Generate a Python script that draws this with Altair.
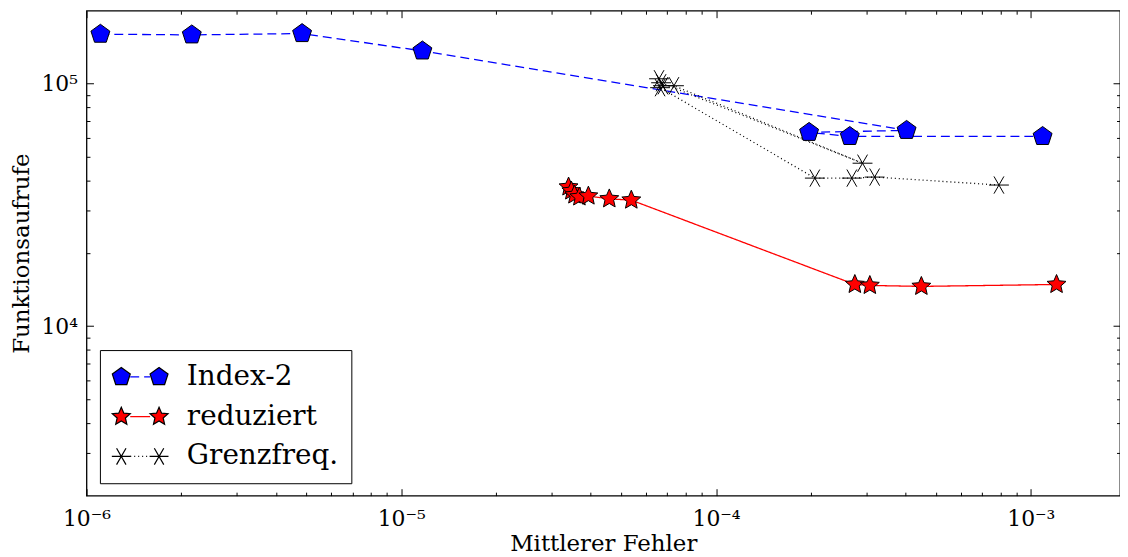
import math
import altair as alt
import pandas as pd

# ---------------- data ----------------
series_names = ["Index-2", "reduziert", "Grenzfreq."]

idx2_err = [1.107e-6, 2.16e-6, 4.84e-6, 1.167e-5, 4.03e-4, 1.975e-4, 2.66e-4, 1.09e-3]
idx2_calls = [1.60e5, 1.59e5, 1.61e5, 1.365e5, 6.42e4, 6.30e4, 6.06e4, 6.06e4]

red_err = [3.40e-5, 3.47e-5, 3.55e-5, 3.68e-5, 3.93e-5, 4.58e-5, 5.38e-5,
           2.76e-4, 3.08e-4, 4.49e-4, 1.207e-3]
red_calls = [3.75e4, 3.61e4, 3.475e4, 3.41e4, 3.44e4, 3.35e4, 3.31e4,
             1.486e4, 1.472e4, 1.459e4, 1.486e4]

grenz_err = [7.92e-4, 3.19e-4, 2.70e-4, 2.06e-4, 6.64e-5, 6.59e-5, 6.78e-5,
             7.35e-5, 2.92e-4, 6.69e-5]
grenz_calls = [3.82e4, 4.12e4, 4.08e4, 4.08e4, 9.63e4, 1.048e5, 9.81e4,
               9.81e4, 4.70e4, 1.009e5]

x_major = [1e-6, 1e-5, 1e-4, 1e-3]
x_major_labels = ["10⁻⁶", "10⁻⁵", "10⁻⁴", "10⁻³"]
x_minor = [k * 10.0 ** e for e in (-6, -5, -4) for k in range(2, 10)]
y_major = [1e4, 1e5]
y_major_labels = ["10⁴", "10⁵"]
y_minor = [k * 10.0 ** e for e in (3, 4) for k in range(2, 10) if not (e == 3 and k == 2)]

x_domain = [1e-6, 1.92e-3]
y_domain = [2e3, 2e5]

colors = ["#0000ff", "#ff0000", "#000000"]
dashes = [[9, 5], [1, 0], [1, 3]]
marker_widths = [1.0, 1.0, 1.4]

# ---------------- marker shapes ----------------
def pentagon(cx=0.0):
    pts = []
    for k in range(5):
        a = -math.pi / 2 + k * 2 * math.pi / 5
        pts.append((cx + math.cos(a), math.sin(a)))
    return "M" + "L".join(f"{x:.3f},{y:.3f}" for x, y in pts) + "Z"


def star(cx=0.0):
    pts = []
    for k in range(10):
        a = -math.pi / 2 + k * math.pi / 5
        r = 1.0 if k % 2 == 0 else 0.46
        pts.append((cx + r * math.cos(a), r * math.sin(a)))
    return "M" + "L".join(f"{x:.3f},{y:.3f}" for x, y in pts) + "Z"


def asterisk(cx=0.0):
    s = ""
    for a in (0, 60, 120):
        dx = math.cos(math.radians(a))
        dy = math.sin(math.radians(a))
        s += f"M{cx - dx:.3f},{-dy:.3f}L{cx + dx:.3f},{dy:.3f}"
    return s


def pair(fn, d=2.0):
    return fn(-d) + fn(d)


shapes = [pentagon(), star(), asterisk()]
legend_shapes = [pair(pentagon), pair(star), pair(asterisk)]

# ---------------- table ----------------
rows = []
for name, xs_, ys_ in zip(series_names, [idx2_err, red_err, grenz_err],
                          [idx2_calls, red_calls, grenz_calls]):
    for i, (a, b) in enumerate(zip(xs_, ys_)):
        # "lseries" keeps the line legend apart from the marker legend
        rows.append({"series": name, "lseries": name + "\u200b", "err": a,
                     "calls": b, "idx": i})
df = pd.DataFrame(rows)
line_names = [n + "\u200b" for n in series_names]

FONT = "DejaVu Serif"
xs = alt.Scale(type="log", domain=x_domain, nice=False)
ys = alt.Scale(type="log", domain=y_domain, nice=False)


def xlab_expr():
    parts = []
    for v, lab in zip(x_major[:-1], x_major_labels[:-1]):
        parts.append(f"datum.value < {v * 3.0} ? '{lab}' : ")
    return "".join(parts) + f"'{x_major_labels[-1]}'"


def ylab_expr():
    return f"datum.value < {y_major[0] * 3.0} ? '{y_major_labels[0]}' : '{y_major_labels[1]}'"


def axis(orient, values, size, labels=False, title=None, expr=None, lp=8, tp=6):
    kw = dict(orient=orient, values=values, tickSize=size, offset=-size,
              domain=False, grid=False, labels=labels, ticks=True,
              tickColor="black", tickWidth=1)
    if title is not None:
        kw.update(title=title, titlePadding=tp, titleFont=FONT, titleFontSize=23,
                  titleFontWeight="normal", titleColor="black")
    else:
        kw["title"] = None
    if labels:
        kw.update(labelExpr=expr, labelPadding=lp, labelFlush=False, labelOverlap=False,
                  labelFont=FONT, labelFontSize=22, labelColor="black")
    return alt.Axis(**kw)


base = alt.Chart(df)

LEG_X, LEG_Y = 13.5, 341.5
common_leg = dict(title=None, orient="none", legendX=LEG_X, legendY=LEG_Y,
                  padding=13, rowPadding=12, labelFont=FONT, labelFontSize=28,
                  symbolOffset=13.5)

leg_a = dict(common_leg, symbolType="stroke", symbolSize=400, symbolStrokeWidth=1.3,
             labelOpacity=0, labelOffset=33)

lines = base.mark_line(strokeWidth=1.3).encode(
    x=alt.X("err:Q", scale=xs,
            axis=axis("bottom", x_major, 7, labels=True, title="Mittlerer Fehler",
                      expr=xlab_expr(), lp=13, tp=3)),
    y=alt.Y("calls:Q", scale=ys,
            axis=axis("left", y_major, 7, labels=True, title="Funktionsaufrufe",
                      expr=ylab_expr(), lp=9, tp=8)),
    color=alt.Color("lseries:N", scale=alt.Scale(domain=line_names, range=colors),
                    legend=alt.Legend(**leg_a)),
    strokeDash=alt.StrokeDash("lseries:N", scale=alt.Scale(domain=line_names, range=dashes),
                              legend=alt.Legend(**leg_a)),
    order="idx:Q",
)

points = base.mark_point(filled=True, stroke="black", opacity=1).encode(
    x=alt.X("err:Q", scale=xs, axis=axis("bottom", x_minor, 3.5)),
    y=alt.Y("calls:Q", scale=ys, axis=axis("left", y_minor, 3.5)),
    shape=alt.Shape("series:N", scale=alt.Scale(domain=series_names, range=shapes), legend=None),
    fill=alt.Fill("series:N", scale=alt.Scale(domain=series_names, range=colors), legend=None),
    strokeWidth=alt.StrokeWidth("series:N",
                                scale=alt.Scale(domain=series_names, range=marker_widths),
                                legend=None),
    size=alt.value(400),
)

leg_c = dict(common_leg, symbolSize=361, symbolStrokeColor="black",
             symbolStrokeWidth=1.2, symbolOpacity=1, labelColor="black",
             labelOffset=33, strokeColor="black")

legend_pts = base.transform_filter("datum.idx < 0").mark_point(
    filled=True, opacity=1).encode(
    x=alt.X("err:Q", scale=xs, axis=axis("top", x_major, 7)),
    y=alt.Y("calls:Q", scale=ys, axis=axis("right", y_major, 7)),
    shape=alt.Shape("series:N", scale=alt.Scale(domain=series_names, range=legend_shapes),
                    legend=alt.Legend(**leg_c)),
    fill=alt.Fill("series:N", scale=alt.Scale(domain=series_names, range=colors),
                  legend=alt.Legend(**leg_c)),
    stroke=alt.Stroke("series:N",
                      scale=alt.Scale(domain=series_names, range=["black", "black", "black"]),
                      legend=alt.Legend(**leg_c)),
)

minor_top = base.transform_filter("datum.idx < 0").mark_point().encode(
    x=alt.X("err:Q", scale=xs, axis=axis("top", x_minor, 3.5)),
    y=alt.Y("calls:Q", scale=ys, axis=axis("right", y_minor, 3.5)),
)

chart = (
    alt.layer(legend_pts, minor_top, lines, points)
    .resolve_scale(shape="independent", fill="independent", stroke="independent")
    .resolve_axis(x="independent", y="independent")
    .properties(width=1040, height=488,
                autosize=alt.AutoSizeParams(type="none"),
                padding={"left": 79, "top": 1, "right": 0, "bottom": 60})
    .configure_view(stroke="black", strokeWidth=1.3)
)

chart.save("out.html", embed_options={"renderer": "svg", "actions": False})
